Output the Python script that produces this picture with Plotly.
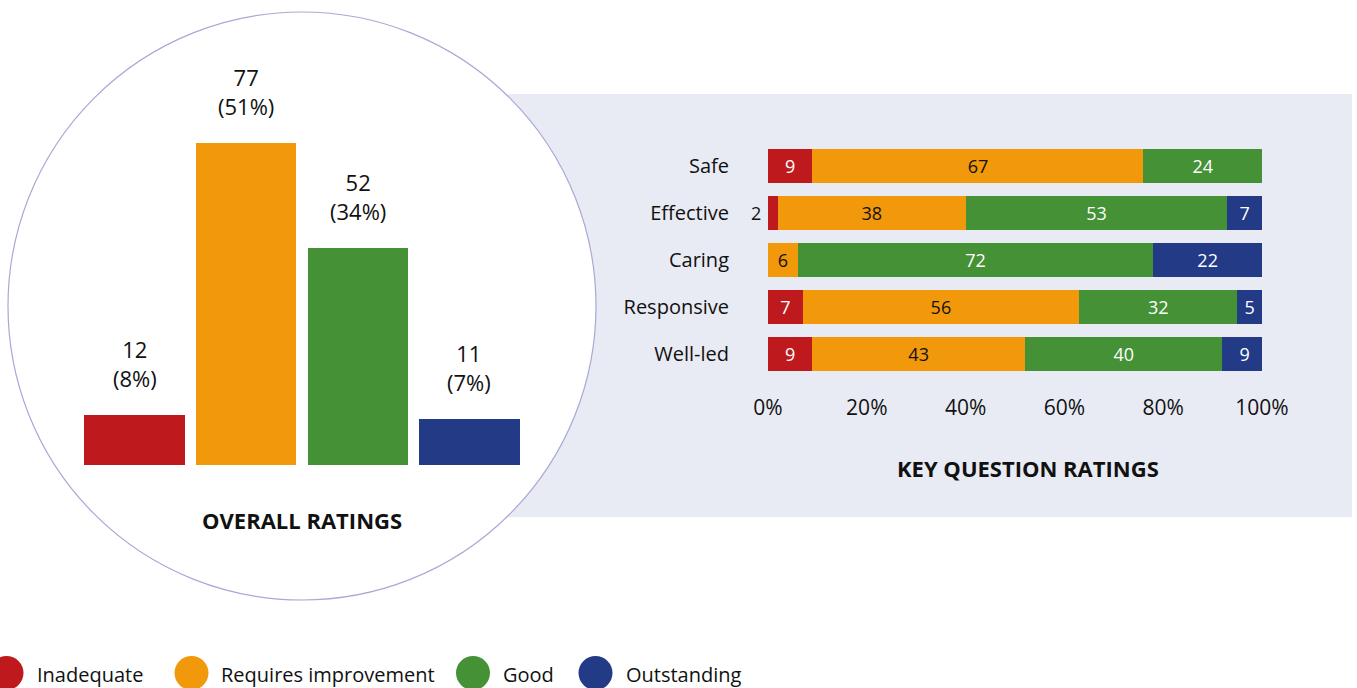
import plotly.graph_objects as go

W, H = 1357, 688

# ---------------- data ----------------
ratings = ["Inadequate", "Requires improvement", "Good", "Outstanding"]
colors = ["#be1a1d", "#f2980b", "#449136", "#233a87"]
text_colors = ["white", "#111111", "white", "white"]

overall_counts = [12, 77, 52, 11]
overall_pct = [8, 51, 34, 7]

questions = ["Safe", "Effective", "Caring", "Responsive", "Well-led"]
inadequate = [9, 2, 0, 7, 9]
requires_improvement = [67, 38, 6, 56, 43]
good = [24, 53, 72, 32, 40]
outstanding = [0, 7, 22, 5, 9]
series = [inadequate, requires_improvement, good, outstanding]
pct_ticks = [0, 20, 40, 60, 80, 100]

FONT = "Open Sans"
TXT = "#111111"


def px(x):
    return x / W


def py(y):
    return 1 - y / H


fig = go.Figure()

# ---------------- overall ratings (left) ----------------
fig.add_trace(go.Bar(
    x=ratings, y=overall_counts, width=0.9,
    marker=dict(color=colors, line=dict(width=0)),
    xaxis="x", yaxis="y", showlegend=False, hoverinfo="skip",
))
for r, c, p in zip(ratings, overall_counts, overall_pct):
    fig.add_annotation(
        x=r, y=c, xref="x", yref="y", text=f"{c}<br>({p}%)",
        showarrow=False, xanchor="center", yanchor="bottom", yshift=20,
        font=dict(family=FONT, size=22, color=TXT),
    )

# ---------------- key question ratings (right) ----------------
for name, vals, col, tcol in zip(ratings, series, colors, text_colors):
    fig.add_trace(go.Bar(
        y=questions, x=vals, orientation="h", width=0.72, name=name,
        marker=dict(color=col, line=dict(width=0)),
        text=[str(v) if v >= 3 else "" for v in vals],
        textposition="inside", insidetextanchor="middle",
        textfont=dict(family=FONT, size=18, color=tcol),
        constraintext="none", textangle=0,
        xaxis="x2", yaxis="y2", showlegend=False, hoverinfo="skip",
    ))
# small values shown outside, to the left of the bar
for q, v in zip(questions, inadequate):
    if 0 < v < 3:
        fig.add_annotation(
            x=0, y=q, xref="x2", yref="y2", text=str(v), showarrow=False,
            xanchor="right", yanchor="middle", xshift=-5,
            font=dict(family=FONT, size=18, color=TXT),
        )

shapes = [
    # background panel
    dict(type="rect", xref="paper", yref="paper",
         x0=px(470), x1=px(1352), y0=py(517), y1=py(94),
         fillcolor="#e8ebf3", line=dict(width=0), layer="below"),
    # circle
    dict(type="circle", xref="paper", yref="paper",
         x0=px(8), x1=px(596), y0=py(600), y1=py(12),
         fillcolor="white", line=dict(color="#a9a8d6", width=1.2), layer="below"),
]

# legend
legend_cx = [6.5, 191.5, 473, 595.5]
legend_tx = [35, 219, 501, 624]
for cx, tx, name, col in zip(legend_cx, legend_tx, ratings, colors):
    shapes.append(dict(type="circle", xref="paper", yref="paper",
                       x0=px(cx - 17), x1=px(cx + 17), y0=py(690), y1=py(656),
                       fillcolor=col, line=dict(width=0)))
    fig.add_annotation(x=px(tx), y=py(674), xref="paper", yref="paper",
                       text=name, showarrow=False, xanchor="left", yanchor="middle",
                       font=dict(family=FONT, size=20, color=TXT))

# chart titles
fig.add_annotation(x=px(302), y=py(520), xref="paper", yref="paper",
                   text="<b>OVERALL RATINGS</b>", showarrow=False,
                   xanchor="center", yanchor="middle",
                   font=dict(family=FONT, size=22, color=TXT))
fig.add_annotation(x=px(1028), y=py(468), xref="paper", yref="paper",
                   text="<b>KEY QUESTION RATINGS</b>", showarrow=False,
                   xanchor="center", yanchor="middle",
                   font=dict(family=FONT, size=22, color=TXT))

fig.update_layout(
    template="none",
    width=W, height=H, autosize=False,
    margin=dict(l=0, r=0, t=0, b=0, pad=0),
    paper_bgcolor="white", plot_bgcolor="rgba(0,0,0,0)",
    barmode="stack",
    font=dict(family=FONT, color=TXT),
    shapes=shapes,
    xaxis=dict(domain=[px(78.7), px(525.3)], range=[-0.5, 3.5],
               visible=False, fixedrange=True, automargin=False),
    yaxis=dict(domain=[py(465), py(143)], range=[0, 77],
               visible=False, fixedrange=True, automargin=False),
    xaxis2=dict(domain=[px(768), px(1262)], range=[0, 100],
                tickvals=pct_ticks, ticktext=[f"{v}%" for v in pct_ticks],
                ticks="outside", ticklen=11, tickcolor="rgba(0,0,0,0)",
                showgrid=False, zeroline=False, showline=False,
                tickfont=dict(family=FONT, size=21, color=TXT),
                anchor="y2", fixedrange=True, automargin=False),
    yaxis2=dict(domain=[py(377.5), py(142.5)], autorange="reversed",
                showgrid=False, zeroline=False, showline=False, ticks="",
                ticklabelstandoff=38,
                tickfont=dict(family=FONT, size=20, color=TXT),
                anchor="x2", fixedrange=True, automargin=False),
)

fig.write_html("out.html", config={"displayModeBar": False},
               post_script="document.body.style.margin='0';")
